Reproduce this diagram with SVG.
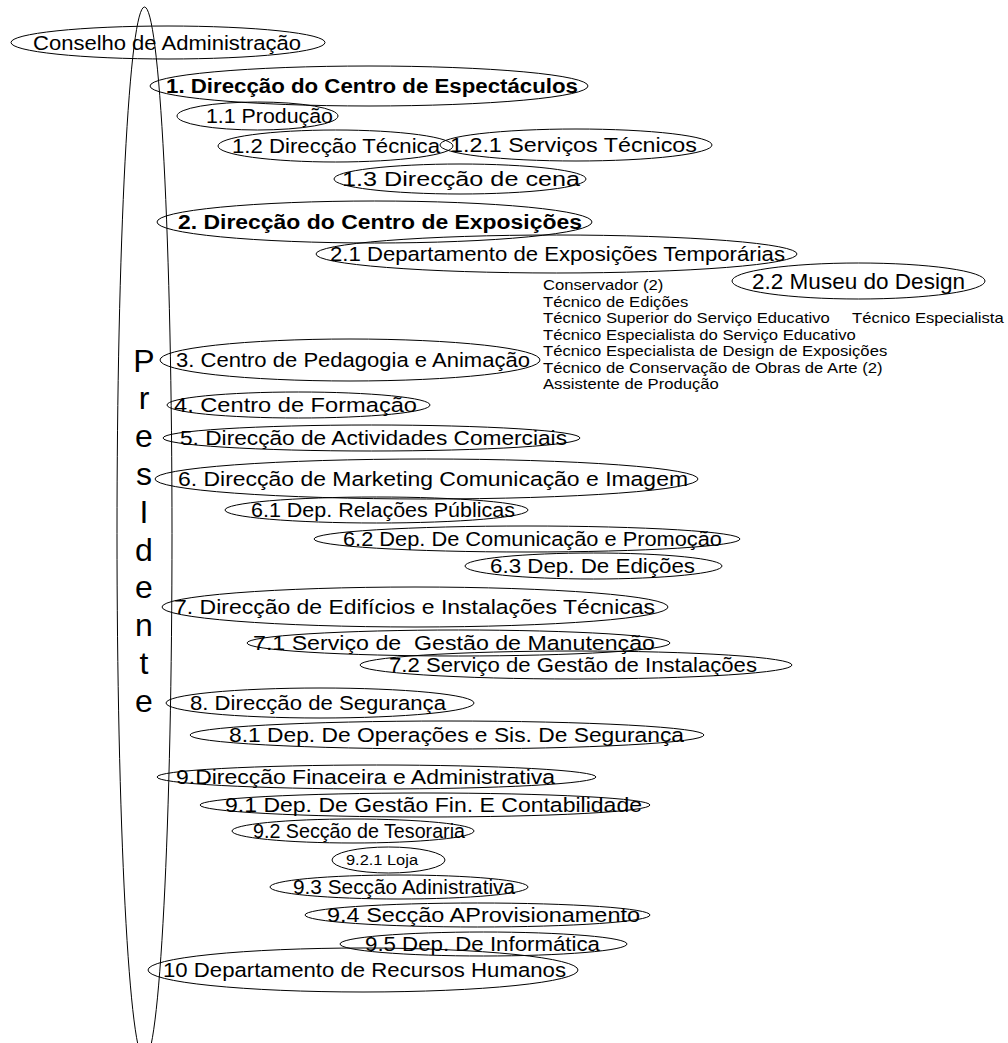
<svg xmlns="http://www.w3.org/2000/svg" width="1008" height="1043" viewBox="0 0 1008 1043">
<style>
ellipse{fill:none;stroke:#000;stroke-width:1}
text{font-family:"Liberation Sans",Arial,sans-serif;fill:#000}
.t{font-size:20.5px}
.b{font-size:20px;font-weight:bold}
.s{font-size:14px}
.l{font-size:21.5px}
.p{font-size:32px}
</style>
<rect width="1008" height="1043" fill="#fff"/>
<g id="connectors"></g>
<g id="presidente">
<ellipse cx="144.5" cy="533.5" rx="27.5" ry="526.5"/>
<g class="p" text-anchor="middle">
<text x="144" y="371.5">P</text>
<text x="144" y="409.3">r</text>
<text x="144" y="447.1">e</text>
<text x="144" y="484.9">s</text>
<text x="144" y="522.7">I</text>
<text x="144" y="560.5">d</text>
<text x="144" y="598.3">e</text>
<text x="144" y="636.1">n</text>
<text x="144" y="673.9">t</text>
<text x="144" y="711.7">e</text>
</g>
</g>
<g id="conselho"><ellipse cx="168" cy="42.5" rx="157" ry="16.5"/><text class="t" x="33" y="49.5" textLength="268" lengthAdjust="spacingAndGlyphs">Conselho de Administração</text></g>
<g id="n1"><ellipse cx="369" cy="86" rx="219" ry="20"/><text class="b" x="166" y="93" textLength="412" lengthAdjust="spacingAndGlyphs">1. Direcção do Centro de Espectáculos</text></g>
<g id="n1-1"><ellipse cx="257.5" cy="116" rx="80.5" ry="14"/><text class="t" x="206" y="123" textLength="127" lengthAdjust="spacingAndGlyphs">1.1 Produção</text></g>
<g id="n1-2"><ellipse cx="335.5" cy="146" rx="117.5" ry="16"/><text class="t" x="232" y="153" textLength="208" lengthAdjust="spacingAndGlyphs">1.2 Direcção Técnica</text></g>
<g id="n1-2-1"><ellipse cx="576" cy="145" rx="136" ry="16"/><text class="t" x="450" y="152" textLength="247" lengthAdjust="spacingAndGlyphs">1.2.1 Serviços Técnicos</text></g>
<g id="n1-3"><ellipse cx="460" cy="179" rx="126" ry="15"/><text class="t" x="342" y="186" textLength="238" lengthAdjust="spacingAndGlyphs">1.3 Direcção de cena</text></g>
<g id="n2"><ellipse cx="374.5" cy="222" rx="217.5" ry="21"/><text class="b" x="178" y="229" textLength="404" lengthAdjust="spacingAndGlyphs">2. Direcção do Centro de Exposições</text></g>
<g id="n2-1"><ellipse cx="556.5" cy="254" rx="240.5" ry="19"/><text class="t" x="330" y="261" textLength="455" lengthAdjust="spacingAndGlyphs">2.1 Departamento de Exposições Temporárias</text></g>
<g id="n2-2"><ellipse cx="858.5" cy="281" rx="126.5" ry="18"/><text class="l" x="752" y="289" textLength="213" lengthAdjust="spacingAndGlyphs">2.2 Museu do Design</text></g>
<g id="staff" class="s">
<text transform="translate(543 290) scale(1.19 1)">Conservador (2)</text>
<text transform="translate(543 306.5) scale(1.19 1)">Técnico de Edições</text>
<text transform="translate(543 323) scale(1.19 1)">Técnico Superior do Serviço Educativo</text>
<text transform="translate(852 323) scale(1.19 1)">Técnico Especialista</text>
<text transform="translate(543 339.5) scale(1.19 1)">Técnico Especialista do Serviço Educativo</text>
<text transform="translate(543 356) scale(1.19 1)">Técnico Especialista de Design de Exposições</text>
<text transform="translate(543 372.5) scale(1.19 1)">Técnico de Conservação de Obras de Arte (2)</text>
<text transform="translate(543 389) scale(1.19 1)">Assistente de Produção</text>
</g>
<g id="n3"><ellipse cx="350" cy="360" rx="190" ry="21"/><text class="t" x="176" y="367" textLength="354" lengthAdjust="spacingAndGlyphs">3. Centro de Pedagogia e Animação</text></g>
<g id="n4"><ellipse cx="298.5" cy="405" rx="131.5" ry="13"/><text class="t" x="174" y="412" textLength="243" lengthAdjust="spacingAndGlyphs">4. Centro de Formação</text></g>
<g id="n5"><ellipse cx="371.5" cy="438" rx="208.5" ry="13"/><text class="t" x="180" y="445" textLength="387" lengthAdjust="spacingAndGlyphs">5. Direcção de Actividades Comerciais</text></g>
<g id="n6"><ellipse cx="426.5" cy="479" rx="271.5" ry="20"/><text class="t" x="178" y="486" textLength="510" lengthAdjust="spacingAndGlyphs">6. Direcção de Marketing Comunicação e Imagem</text></g>
<g id="n6-1"><ellipse cx="376.5" cy="510" rx="151.5" ry="13"/><text class="t" x="251" y="517" textLength="264" lengthAdjust="spacingAndGlyphs">6.1 Dep. Relações Públicas</text></g>
<g id="n6-2"><ellipse cx="527" cy="539" rx="213" ry="13"/><text class="t" x="343" y="546" textLength="379" lengthAdjust="spacingAndGlyphs">6.2 Dep. De Comunicação e Promoção</text></g>
<g id="n6-3"><ellipse cx="593.5" cy="566" rx="128.5" ry="13"/><text class="t" x="490" y="573" textLength="205" lengthAdjust="spacingAndGlyphs">6.3 Dep. De Edições</text></g>
<g id="n7"><ellipse cx="415" cy="607" rx="253" ry="20"/><text class="t" x="174" y="614" textLength="481" lengthAdjust="spacingAndGlyphs">7. Direcção de Edifícios e Instalações Técnicas</text></g>
<g id="n7-1"><ellipse cx="458.5" cy="643" rx="211.5" ry="13"/><text class="t" x="253" y="650" textLength="402" lengthAdjust="spacingAndGlyphs" xml:space="preserve">7.1 Serviço de  Gestão de Manutenção</text></g>
<g id="n7-2"><ellipse cx="576" cy="665" rx="216" ry="14"/><text class="t" x="389" y="672" textLength="368" lengthAdjust="spacingAndGlyphs">7.2 Serviço de Gestão de Instalações</text></g>
<g id="n8"><ellipse cx="320" cy="703" rx="154" ry="15"/><text class="t" x="190" y="710" textLength="256" lengthAdjust="spacingAndGlyphs">8. Direcção de Segurança</text></g>
<g id="n8-1"><ellipse cx="447" cy="735" rx="257" ry="14"/><text class="t" x="229" y="742" textLength="455" lengthAdjust="spacingAndGlyphs">8.1 Dep. De Operações e Sis. De Segurança</text></g>
<g id="n9"><ellipse cx="376.5" cy="777" rx="219.5" ry="12"/><text class="t" x="176" y="784" textLength="379" lengthAdjust="spacingAndGlyphs">9.Direcção Finaceira e Administrativa</text></g>
<g id="n9-1"><ellipse cx="425" cy="805" rx="225" ry="12"/><text class="t" x="225" y="812" textLength="417" lengthAdjust="spacingAndGlyphs">9.1 Dep. De Gestão Fin. E Contabilidade</text></g>
<g id="n9-2"><ellipse cx="353" cy="831" rx="121" ry="12"/><text class="t" x="253" y="838" textLength="212" lengthAdjust="spacingAndGlyphs">9.2 Secção de Tesoraria</text></g>
<g id="n9-2-1"><ellipse cx="388.5" cy="860" rx="56.5" ry="13"/><text class="s" x="346" y="865" textLength="72" lengthAdjust="spacingAndGlyphs">9.2.1 Loja</text></g>
<g id="n9-3"><ellipse cx="399" cy="887" rx="129" ry="12"/><text class="t" x="293" y="894" textLength="222" lengthAdjust="spacingAndGlyphs">9.3 Secção Adinistrativa</text></g>
<g id="n9-4"><ellipse cx="477.5" cy="915" rx="172.5" ry="12"/><text class="t" x="327" y="922" textLength="313" lengthAdjust="spacingAndGlyphs">9.4 Secção AProvisionamento</text></g>
<g id="n9-5"><ellipse cx="483.5" cy="944" rx="143.5" ry="12"/><text class="t" x="365" y="951" textLength="235" lengthAdjust="spacingAndGlyphs">9.5 Dep. De Informática</text></g>
<g id="n10"><ellipse cx="363" cy="970" rx="215" ry="22"/><text class="t" x="163" y="977" textLength="403" lengthAdjust="spacingAndGlyphs">10 Departamento de Recursos Humanos</text></g>
</svg>
